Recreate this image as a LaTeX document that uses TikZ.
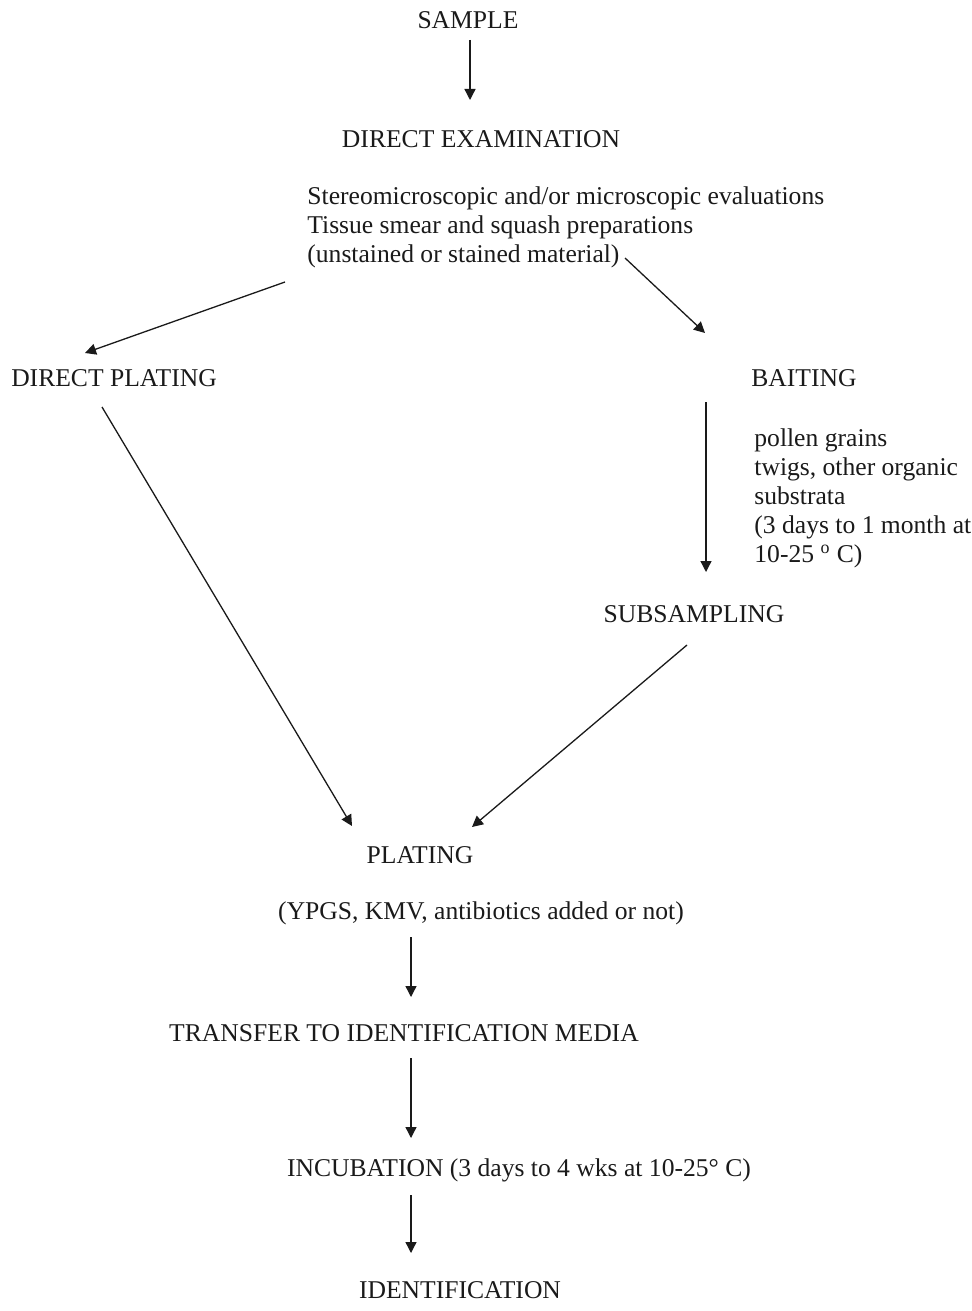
\documentclass[tikz,border=0pt]{standalone}
\usepackage{fontspec}
\setmainfont{Liberation Serif}
\usepackage{tikz}
\usetikzlibrary{arrows.meta,positioning,calc}
\definecolor{ink}{HTML}{1A1A1A}

\begin{document}
\begin{tikzpicture}[
  x=0.5pt, y=-0.5pt,
  lbl/.style={inner sep=0pt, text=ink, font=\fontsize{12.8}{14.5}\selectfont},
  note/.style={lbl, align=left, anchor=west},
  arr/.style={-{Triangle[length=5.5pt, width=5.5pt]}, draw=ink, line width=0.65pt},
]
\useasboundingbox (0,0) rectangle (972,1311);
\node[lbl] (sample) at (468,20) {SAMPLE};
\node[lbl] (exam) at (481,139) {DIRECT EXAMINATION};
\node[note] (evals) at (307,227) {Stereomicroscopic and/or microscopic evaluations\\Tissue smear and squash preparations\\(unstained or stained material)};
\node[lbl] (dplate) at (114,378) {DIRECT PLATING};
\node[lbl] (bait) at (804,378) {BAITING};
\node[note] (baitnote) at (754,498) {pollen grains\\twigs, other organic\\substrata\\(3 days to 1 month at\\10-25 \textsuperscript{o} C)};
\node[lbl] (subs) at (694,614) {SUBSAMPLING};
\node[lbl] (plate) at (420,855) {PLATING};
\node[lbl] (media) at (481,913) {(YPGS, KMV, antibiotics added or not)};
\node[lbl] (transfer) at (404,1033) {TRANSFER TO IDENTIFICATION MEDIA};
\node[lbl] (incub) at (519,1170) {INCUBATION (3 days to 4 wks at 10-25° C)};
\node[lbl] (ident) at (460,1290) {IDENTIFICATION};
\draw[arr] ($(sample)+(2,20)$) -- ($(exam)+(-11,-39)$);
\draw[arr] ($(evals.west)+(-22,55)$) -- ($(dplate)+(-29,-25)$);
\draw[arr] ($(evals.west)+(318,31)$) -- ($(bait)+(-99,-45)$);
\draw[arr] ($(bait)+(-98,24)$) -- ($(subs)+(12,-42)$);
\draw[arr] ($(dplate)+(-12,29)$) -- ($(plate)+(-68,-29)$);
\draw[arr] ($(subs)+(-7,31)$) -- ($(plate)+(52,-28)$);
\draw[arr] ($(media)+(-70,24)$) -- ($(transfer)+(7,-36)$);
\draw[arr] ($(transfer)+(7,25)$) -- ($(incub)+(-108,-32)$);
\draw[arr] ($(incub)+(-108,25)$) -- ($(ident)+(-49,-37)$);
\end{tikzpicture}
\end{document}
